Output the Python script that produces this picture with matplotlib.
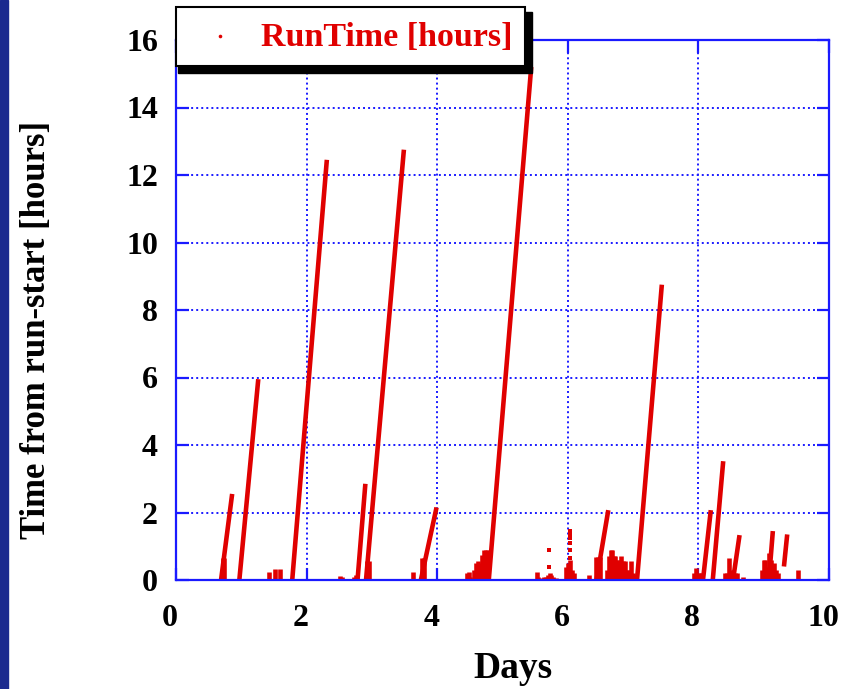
import matplotlib.pyplot as plt
from matplotlib.patches import Rectangle
from matplotlib.lines import Line2D
from matplotlib.transforms import ScaledTranslation

# runs that climb from zero: start day, day of last point, hours reached
ramp_start = [0.69, 0.97, 1.78, 2.78, 2.91, 3.75, 4.79, 6.44, 7.06, 8.07, 8.22, 8.53, 9.08]
ramp_end = [0.86, 1.26, 2.31, 2.90, 3.49, 3.99, 5.44, 6.62, 7.44, 8.19, 8.38, 8.63, 9.14]
ramp_peak = [2.55, 5.95, 12.45, 2.85, 12.75, 2.15, 15.2, 2.07, 8.75, 2.07, 3.52, 1.33, 1.45]

# a run that was already going when the record picks up
late_day = [9.31, 9.36]
late_hours = [0.40, 1.35]

# short runs (under an hour)
short_day = [0.70, 0.72, 0.74, 1.42, 1.52, 1.59, 2.51, 2.54, 2.72, 2.76, 2.93, 2.95,
             3.63, 3.77, 3.80,
             4.46, 4.48, 4.50, 4.57, 4.60, 4.63, 4.66, 4.69, 4.72, 4.75, 4.78,
             5.53, 5.55, 5.60, 5.63, 5.66, 5.69, 5.72, 5.75, 5.78, 5.82,
             5.98, 6.00, 6.03, 6.06, 6.09, 6.32, 6.43, 6.46, 6.49,
             6.60, 6.63, 6.66, 6.68, 6.70, 6.73, 6.76, 6.79, 6.82, 6.85, 6.88,
             6.91, 6.94, 6.97, 7.00, 7.03,
             7.93, 7.96, 7.99, 8.02, 8.05, 8.41, 8.44, 8.47, 8.50, 8.56, 8.59, 8.68,
             8.97, 9.00, 9.02, 9.05, 9.08, 9.11, 9.16, 9.19, 9.22, 9.52]
short_hours = [0.30, 0.65, 0.65, 0.25, 0.33, 0.33, 0.12, 0.10, 0.10, 0.15, 0.55, 0.55,
               0.25, 0.65, 0.65,
               0.20, 0.25, 0.10, 0.30, 0.50, 0.55, 0.50, 0.73, 0.88, 0.88, 0.88,
               0.24, 0.08, 0.05, 0.08, 0.10, 0.15, 0.20, 0.15, 0.10, 0.05,
               0.40, 0.50, 0.60, 0.30, 0.20, 0.15, 0.68, 0.68, 0.68,
               0.30, 0.70, 0.90, 0.90, 0.72, 0.72, 0.60, 0.60, 0.70, 0.55, 0.55,
               0.30, 0.30, 0.55, 0.20, 0.15,
               0.20, 0.35, 0.20, 0.20, 0.20, 0.20, 0.20, 0.65, 0.30, 0.20, 0.20, 0.10,
               0.30, 0.60, 0.60, 0.40, 0.80, 0.60, 0.50, 0.30, 0.20, 0.30]

# isolated readings
dot_day = [5.71, 5.71, 6.03, 6.03, 6.03, 6.03, 6.03, 6.03]
dot_hours = [0.90, 0.38, 1.45, 1.36, 1.24, 1.10, 0.89, 0.65]

RED = '#e00000'
BLUE = '#1a1aff'
W, H = 854, 689

plt.rcParams['font.family'] = 'Liberation Serif'
plt.rcParams['font.weight'] = 'bold'

fig = plt.figure(figsize=(W / 100, H / 100), dpi=100)
ax = fig.add_axes([176 / W, (H - 580) / H, (829 - 176) / W, (580 - 40) / H])

LW = 3.3
for s, e, p in zip(ramp_start, ramp_end, ramp_peak):
    ax.plot([s, e], [0, p], color=RED, lw=LW, solid_capstyle='butt')
ax.plot(late_day, late_hours, color=RED, lw=LW, solid_capstyle='butt')
for d, h in zip(short_day, short_hours):
    ax.plot([d, d], [0, h], color=RED, lw=LW, solid_capstyle='butt')
ax.plot(dot_day, dot_hours, ls='none', marker='s', ms=3.2, color=RED, mew=0)

ax.set_xlim(0, 10)
ax.set_ylim(0, 16)
ax.set_xticks(range(0, 11, 2))
ax.set_yticks(range(0, 17, 2))
ax.grid(True, color=BLUE, linestyle=(0, (1, 1.6)), linewidth=1.4)
ax.tick_params(direction='in', length=9, width=1.6, color=BLUE,
               top=True, right=True, labelsize=23)
ax.tick_params(axis='x', pad=17)
ax.tick_params(axis='y', pad=13)
# x tick numbers sit a little left of their ticks
shift = ScaledTranslation(-6 / 100, 0, fig.dpi_scale_trans)
for lab in ax.get_xticklabels():
    lab.set_transform(lab.get_transform() + shift)
for sp in ax.spines.values():
    sp.set_color(BLUE)
    sp.set_linewidth(1.6)

ax.set_xlabel('Days', fontsize=27, fontweight='bold')
ax.set_ylabel('Time from run-start [hours]', fontsize=25, fontweight='bold')
ax.xaxis.set_label_coords((513 - 176) / 653, -(668 - 580) / 540)
ax.xaxis.label.set_verticalalignment('center')
ax.yaxis.set_label_coords((37 - 176) / 653, (580 - 330) / 540)
ax.yaxis.label.set_verticalalignment('center')

# slide edge on the left
fig.patches.append(Rectangle((0, 0), 8 / W, 1, transform=fig.transFigure,
                             color='#1b2a8f', zorder=5))


def fx(px):
    return px / W


def fy(py):
    return 1 - py / H


# legend box with a solid drop shadow
fig.patches.append(Rectangle((fx(178), fy(73)), fx(532) - fx(178), fy(12) - fy(73),
                             transform=fig.transFigure, color='black', zorder=6))
fig.patches.append(Rectangle((fx(176), fy(66)), fx(525) - fx(176), fy(7) - fy(66),
                             transform=fig.transFigure, facecolor='white',
                             edgecolor='black', linewidth=1.5, zorder=7))
fig.lines.append(Line2D([fx(220)], [fy(36)], transform=fig.transFigure, ls='none',
                        marker='o', ms=2.6, mew=0, color=RED, zorder=8))
fig.text(fx(261), fy(38), 'RunTime [hours]', color=RED, fontsize=24.5,
         fontweight='bold', ha='left', va='center', zorder=8)

fig.savefig('out.png', dpi=100)
